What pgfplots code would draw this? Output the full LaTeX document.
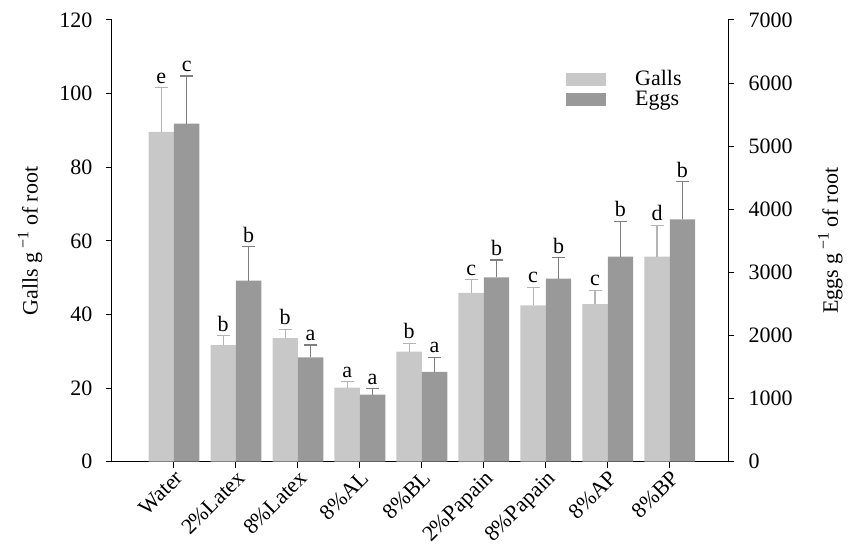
\documentclass[border=0pt]{standalone}
\usepackage{fontspec}
\setmainfont{Liberation Serif}
\usepackage{pgfplots}
\pgfplotsset{compat=1.18}
\definecolor{gallc}{HTML}{C8C8C8}
\definecolor{eggc}{HTML}{999999}
\definecolor{gallerr}{HTML}{B4B4B4}
\definecolor{eggerr}{HTML}{7E7E7E}
\newcommand{\bigf}{\fontsize{22}{26}\selectfont}
\newcommand{\supm}{\raisebox{0.42em}{\fontsize{16}{18}\selectfont −1}}
\pgfplotsset{
  common/.style={
    width=616pt, height=441.7pt, scale only axis,
    xmin=-1, xmax=8.94, ymin=0,
    tick align=outside,
    major tick length=6pt,
    /pgf/number format/assume math mode=true,
    /pgf/number format/1000 sep={},
    tick style={black, line width=1pt},
    axis line style={black, line width=1pt},
    tick label style={font=\bigf},
    label style={font=\bigf},
  },
  letters/.style={draw=none, mark=none, forget plot, nodes near coords,
    point meta=explicit symbolic,
    nodes near coords style={anchor=south, inner sep=0pt, yshift=4pt, black, font=\bigf}},
  errs/.style={draw=none, mark=none, forget plot,
    error bars/.cd, y dir=plus, y explicit,
    error bar style={#1, line width=1.2pt},
    error mark options={#1, rotate=90, mark size=6.5pt, line width=1.2pt}},
}
\begin{document}
\bigf
\begin{tikzpicture}
\begin{axis}[common, name=main,
  ymax=120, ytick={0,20,...,120},
  axis x line*=bottom, axis y line*=left,
  yticklabel style={xshift=-6pt},
  xtick={0,...,8},
  xticklabels={Water,2\%Latex,8\%Latex,8\%AL,8\%BL,2\%Papain,8\%Papain,8\%AP,8\%BP},
  xticklabel style={rotate=45, anchor=north east, inner sep=1pt},
  ylabel={Galls g\,\supm\ of root},
  ylabel style={at={(axis description cs:-0.133,0.5)}, anchor=center},
  legend image code/.code={\fill[#1, draw=none] (0pt,-6.5pt) rectangle (40pt,6.5pt);},
  legend style={at={(axis description cs:0.737,0.887)}, anchor=north west,
    draw=none, fill=none, font=\bigf, inner sep=0pt,
    nodes={inner ysep=0pt, inner xsep=2pt}, row sep=2pt,
    /tikz/every odd column/.append style={column sep=0pt}},
  legend cell align=left,
]
\addplot[ybar, bar width=0.41, bar shift=-0.205, fill=gallc, draw=none, forget plot]
coordinates {
(0,89.6) (1,31.7) (2,33.6) (3,20.1) (4,29.9) (5,45.9) (6,42.5) (7,42.8) (8,55.7)
};
\addplot[errs=gallerr] coordinates {
(-0.205,89.6) +- (0,12.0)
(0.795,31.7) +- (0,2.6)
(1.795,33.6) +- (0,2.4)
(2.795,20.1) +- (0,1.6)
(3.795,29.9) +- (0,2.3)
(4.795,45.9) +- (0,3.5)
(5.795,42.5) +- (0,4.9)
(6.795,42.8) +- (0,3.8)
(7.795,55.7) +- (0,8.5)
};
\addplot[letters] coordinates {
(-0.205,101.6) [e]
(0.795,34.3) [b]
(1.795,36.0) [b]
(2.795,21.7) [a]
(3.795,32.2) [b]
(4.795,49.4) [c]
(5.795,47.4) [c]
(6.795,46.6) [c]
(7.795,64.2) [d]
};
\addlegendimage{fill=gallc, draw=none}
\addlegendentry{\hspace*{27pt}Galls}
\addlegendimage{fill=eggc, draw=none}
\addlegendentry{\hspace*{27pt}Eggs}
\end{axis}
\begin{axis}[common,
  ymax=7000, ytick={0,1000,...,7000},
  axis y line*=right, axis x line=none,
  yticklabel style={xshift=7pt},
  ylabel={Eggs g\,\supm\ of root},
  ylabel style={at={(axis description cs:1.166,0.5)}, anchor=center},
]
\addplot[ybar, bar width=0.41, bar shift=0.205, fill=eggc, draw=none, forget plot]
coordinates {
(0,5356) (1,2869) (2,1655) (3,1062) (4,1422) (5,2922) (6,2900) (7,3249) (8,3841)
};
\addplot[errs=eggerr] coordinates {
(0.205,5356) +- (0,756)
(1.205,2869) +- (0,538)
(2.205,1655) +- (0,194)
(3.205,1062) +- (0,95)
(4.205,1422) +- (0,233)
(5.205,2922) +- (0,274)
(6.205,2900) +- (0,333)
(7.205,3249) +- (0,561)
(8.205,3841) +- (0,596)
};
\addplot[letters] coordinates {
(0.205,6112) [c]
(1.205,3407) [b]
(2.205,1849) [a]
(3.205,1157) [a]
(4.205,1655) [a]
(5.205,3196) [b]
(6.205,3233) [b]
(7.205,3810) [b]
(8.205,4437) [b]
};
\end{axis}
\path (main.south west) ++(-112pt,-95.3pt) rectangle ++(851pt,557pt);
\end{tikzpicture}
\end{document}
